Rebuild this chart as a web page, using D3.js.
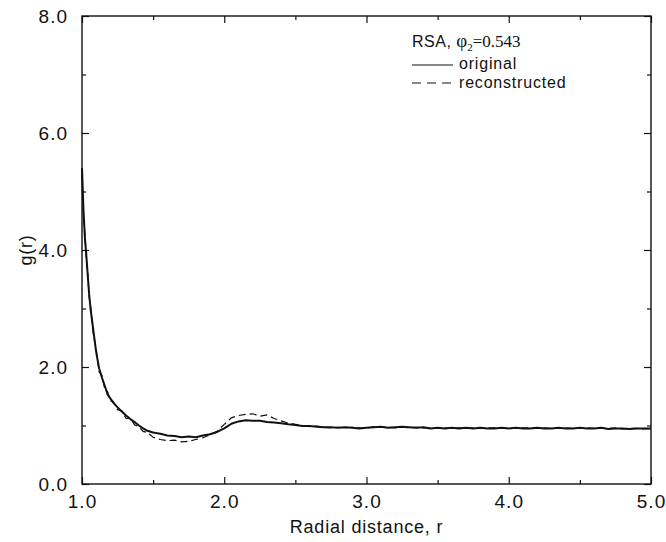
<!DOCTYPE html>
<html>
<head>
<meta charset="utf-8">
<script src="https://cdn.jsdelivr.net/npm/d3@7"></script>
<style>
  body { margin: 0; background: #fff; }
  text { font-family: "Liberation Sans", Arial, sans-serif; fill: #111; }
</style>
</head>
<body>
<div id="chart"></div>
<script>
// radial distance grid (shared by both curves)
var rVals = [1.00, 1.01, 1.02, 1.03, 1.04, 1.05, 1.06, 1.08, 1.10, 1.12, 1.14, 1.16, 1.18, 1.20, 1.22,
  1.25, 1.28, 1.31, 1.34, 1.37, 1.40, 1.43, 1.46, 1.50,
  1.55, 1.60, 1.65, 1.70, 1.75, 1.80, 1.85, 1.90, 1.95, 2.00,
  2.05, 2.10, 2.15, 2.20, 2.25, 2.30, 2.35, 2.40, 2.45, 2.50,
  2.55, 2.60, 2.65, 2.70, 2.75, 2.80, 2.85, 2.90, 2.95, 3.00,
  3.05, 3.10, 3.15, 3.20, 3.25, 3.30, 3.35, 3.40, 3.45, 3.50,
  3.55, 3.60, 3.65, 3.70, 3.75, 3.80, 3.85, 3.90, 3.95, 4.00,
  4.05, 4.10, 4.15, 4.20, 4.25, 4.30, 4.35, 4.40, 4.45, 4.50,
  4.55, 4.60, 4.65, 4.70, 4.75, 4.80, 4.85, 4.90, 4.95, 5.00];

var gOriginal = [5.40, 4.70, 4.22, 3.92, 3.58, 3.25, 3.00, 2.62, 2.25, 1.98, 1.82, 1.68, 1.53, 1.46, 1.39,
  1.31, 1.24, 1.17, 1.11, 1.06, 1.00, 0.95, 0.91, 0.88,
  0.86, 0.83, 0.82, 0.80, 0.81, 0.80, 0.83, 0.85, 0.89, 0.95,
  1.03, 1.07, 1.09, 1.08, 1.08, 1.06, 1.05, 1.04, 1.02, 1.01,
  0.99, 0.99, 0.98, 0.97, 0.97, 0.96, 0.97, 0.96, 0.95, 0.96,
  0.97, 0.98, 0.96, 0.97, 0.98, 0.97, 0.96, 0.97, 0.95, 0.96,
  0.95, 0.96, 0.95, 0.96, 0.95, 0.96, 0.95, 0.95, 0.96, 0.95,
  0.96, 0.95, 0.95, 0.96, 0.95, 0.95, 0.96, 0.95, 0.95, 0.96,
  0.95, 0.95, 0.96, 0.94, 0.95, 0.95, 0.94, 0.95, 0.95, 0.95];

var gReconstructed = [5.30, 4.65, 4.30, 3.85, 3.62, 3.20, 3.05, 2.55, 2.30, 1.92, 1.86, 1.62, 1.58, 1.42, 1.41,
  1.27, 1.25, 1.12, 1.12, 1.01, 0.98, 0.90, 0.88, 0.80,
  0.76, 0.74, 0.75, 0.72, 0.73, 0.76, 0.79, 0.84, 0.90, 1.02,
  1.13, 1.17, 1.19, 1.20, 1.16, 1.18, 1.12, 1.08, 1.04, 1.02,
  1.00, 0.98, 0.99, 0.97, 0.96, 0.97, 0.96, 0.97, 0.96, 0.95,
  0.98, 0.97, 0.97, 0.96, 0.97, 0.96, 0.97, 0.96, 0.96, 0.95,
  0.96, 0.95, 0.96, 0.95, 0.96, 0.95, 0.96, 0.96, 0.95, 0.96,
  0.95, 0.96, 0.96, 0.95, 0.96, 0.95, 0.95, 0.96, 0.95, 0.95,
  0.96, 0.95, 0.95, 0.95, 0.96, 0.94, 0.95, 0.95, 0.94, 0.95];

var xMajor = [1, 2, 3, 4, 5];
var xMinor = [1.5, 2.5, 3.5, 4.5];
var yMajor = [0, 2, 4, 6, 8];
var yMinor = [1, 3, 5, 7];

var width = 666, height = 542;
var margin = {top: 16, right: 15, bottom: 58, left: 82};

var svg = d3.select("#chart").append("svg")
  .attr("width", width)
  .attr("height", height);

var x = d3.scaleLinear().domain([1, 5]).range([margin.left, width - margin.right]);
var y = d3.scaleLinear().domain([0, 8]).range([height - margin.bottom, margin.top]);

var fmt = d3.format(".1f");

// major + minor ticks on all four sides, pointing inward
function drawAxis(axis, tr, cls) {
  var g = svg.append("g").attr("class", cls).attr("transform", tr).call(axis);
  g.select(".domain").remove();
  g.selectAll("line").attr("stroke", "#111").attr("stroke-width", 1.2);
  return g;
}

var bottom = drawAxis(d3.axisBottom(x).tickValues(xMajor).tickSize(-7).tickPadding(11).tickFormat(fmt),
  "translate(0," + y(0) + ")", "xaxis");
drawAxis(d3.axisBottom(x).tickValues(xMinor).tickSize(-4).tickFormat(""), "translate(0," + y(0) + ")", "xminor");
drawAxis(d3.axisTop(x).tickValues(xMajor).tickSize(-7).tickFormat(""), "translate(0," + y(8) + ")", "xtop");
drawAxis(d3.axisTop(x).tickValues(xMinor).tickSize(-4).tickFormat(""), "translate(0," + y(8) + ")", "xtopminor");

var left = drawAxis(d3.axisLeft(y).tickValues(yMajor).tickSize(-7).tickPadding(14).tickFormat(fmt),
  "translate(" + x(1) + ",0)", "yaxis");
drawAxis(d3.axisLeft(y).tickValues(yMinor).tickSize(-4).tickFormat(""), "translate(" + x(1) + ",0)", "yminor");
drawAxis(d3.axisRight(y).tickValues(yMajor).tickSize(-7).tickFormat(""), "translate(" + x(5) + ",0)", "yright");
drawAxis(d3.axisRight(y).tickValues(yMinor).tickSize(-4).tickFormat(""), "translate(" + x(5) + ",0)", "yrightminor");

bottom.selectAll("text").style("font-size", "19px").attr("letter-spacing", "1px").attr("fill", "#111");
left.selectAll("text").style("font-size", "19px").attr("letter-spacing", "1px").attr("fill", "#111");

// frame
svg.append("rect")
  .attr("x", x(1)).attr("y", y(8))
  .attr("width", x(5) - x(1)).attr("height", y(0) - y(8))
  .attr("fill", "none").attr("stroke", "#111").attr("stroke-width", 1.4);

var pts = rVals.map(function(r, i) {
  return {r: r, orig: gOriginal[i], recon: gReconstructed[i]};
});

var lineOrig = d3.line().x(function(d) { return x(d.r); }).y(function(d) { return y(d.orig); });
var lineRecon = d3.line().x(function(d) { return x(d.r); }).y(function(d) { return y(d.recon); });

svg.append("path").datum(pts)
  .attr("d", lineRecon)
  .attr("fill", "none").attr("stroke", "#111").attr("stroke-width", 1.2)
  .attr("stroke-dasharray", "7,4");

svg.append("path").datum(pts)
  .attr("d", lineOrig)
  .attr("fill", "none").attr("stroke", "#111").attr("stroke-width", 2)
  .attr("stroke-linejoin", "round");

// axis titles
svg.append("text")
  .attr("x", x(3)).attr("y", 533)
  .attr("text-anchor", "middle")
  .attr("letter-spacing", "0.8px")
  .style("font-size", "18px")
  .text("Radial distance, r");

svg.append("text")
  .attr("transform", "translate(32," + y(4) + ") rotate(-90)")
  .attr("text-anchor", "middle")
  .attr("letter-spacing", "0.8px")
  .style("font-size", "18px")
  .text("g(r)");

// legend
var legX = 412;
var title = svg.append("text").attr("x", legX).attr("y", 47).style("font-size", "16px");
title.append("tspan").attr("letter-spacing", "0.5px").text("RSA, ");
title.append("tspan").style("font-family", "'Liberation Serif', serif").style("font-size", "19px").text("\u03c6");
title.append("tspan").style("font-family", "'Liberation Serif', serif").style("font-size", "11px").attr("dy", 4).text("2");
title.append("tspan").style("font-family", "'Liberation Serif', serif").style("font-size", "17px").attr("dy", -4).text("=0.543");

svg.append("line").attr("x1", legX).attr("x2", legX + 41).attr("y1", 65).attr("y2", 65)
  .attr("stroke", "#111").attr("stroke-width", 1.2);
svg.append("text").attr("x", legX + 47).attr("y", 69).attr("letter-spacing", "0.8px")
  .style("font-size", "16px").text("original");

svg.append("line").attr("x1", legX).attr("x2", legX + 41).attr("y1", 83).attr("y2", 83)
  .attr("stroke", "#111").attr("stroke-width", 1.2).attr("stroke-dasharray", "9,6");
svg.append("text").attr("x", legX + 47).attr("y", 88).attr("letter-spacing", "0.8px")
  .style("font-size", "16px").text("reconstructed");
</script>
</body>
</html>
